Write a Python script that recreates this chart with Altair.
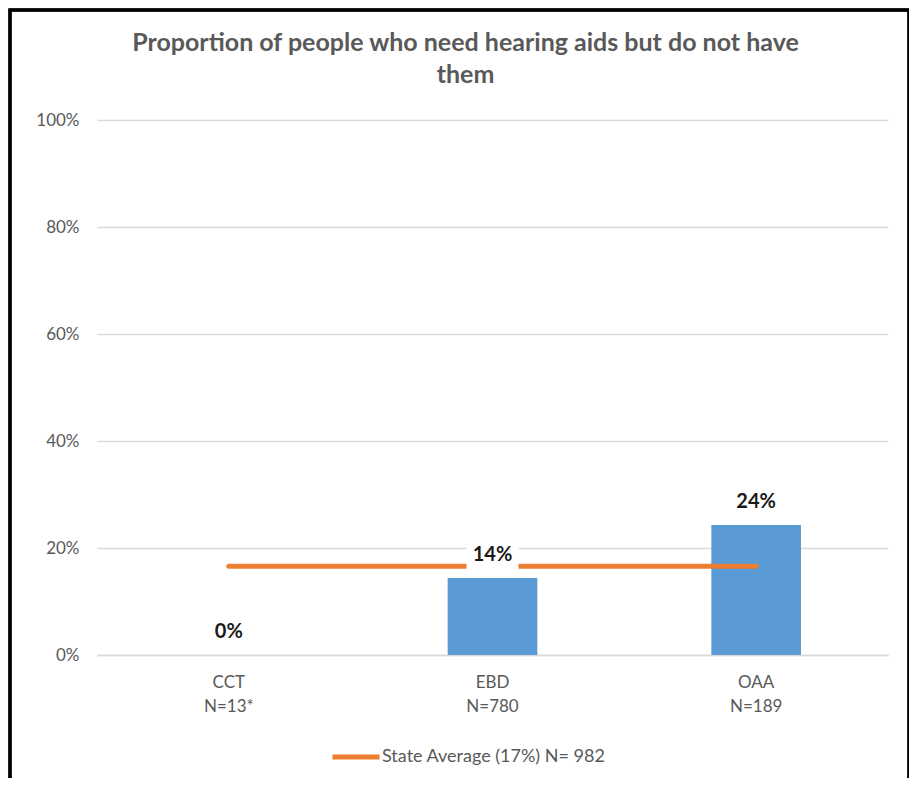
import altair as alt
import pandas as pd

categories = ["CCT\nN=13*", "EBD\nN=780", "OAA\nN=189"]
proportions = [0.0, 0.144, 0.243]
state_average = [0.166, 0.166, 0.166]
series_name = "State Average (17%) N= 982"
title_lines = ["Proportion of people who need hearing aids but do not have", "them"]
y_ticks = [0, 0.2, 0.4, 0.6, 0.8, 1.0]

df = pd.DataFrame({
    "cat": categories,
    "value": proportions,
    "avg": state_average,
    "series": [series_name] * len(categories),
})

FONT = "Lato"
GREY = "#595959"

x = alt.X(
    "cat:N", sort=categories, title=None,
    scale=alt.Scale(paddingInner=0.66, paddingOuter=0.33),
    axis=alt.Axis(labelAngle=0, labelExpr="split(datum.label, '\\n')",
                  labelFont=FONT, labelFontSize=17, labelColor=GREY,
                  labelPadding=19, labelLineHeight=24, ticks=False,
                  domainColor="#D9D9D9", domainWidth=1.5, grid=False),
)
y = alt.Y(
    "value:Q", title=None, scale=alt.Scale(domain=[0, 1], nice=False),
    axis=alt.Axis(format=".0%", values=y_ticks, labelFont=FONT, labelFontSize=17,
                  labelColor=GREY, labelPadding=18, ticks=False, domain=False,
                  gridColor="#D9D9D9", gridWidth=1.5),
)

base = alt.Chart(df)

frame = base.mark_rect(fillOpacity=0, stroke="black", strokeWidth=3).encode(
    x=alt.value(-87), x2=alt.value(812), y=alt.value(-110), y2=alt.value(720)
)

bars = base.mark_bar(color="#5B9BD5").encode(x=x, y=y)

line = base.mark_line(strokeWidth=5, strokeCap="round").encode(
    x=x,
    y=alt.Y("avg:Q"),
    color=alt.Color(
        "series:N", scale=alt.Scale(range=["#ED7D31"]),
        legend=alt.Legend(title=None, orient="none", legendX=233, legendY=611,
                          symbolType="stroke", symbolSize=2209, symbolStrokeWidth=5,
                          labelFont=FONT, labelFontSize=18, labelColor=GREY,
                          labelOffset=0, labelLimit=500),
    ),
)

box = base.mark_point(
    shape="M-1,-0.58L1,-0.58L1,0.58L-1,0.58Z", size=2704, filled=True,
    color="white", opacity=1, yOffset=-23,
).encode(x=x, y=alt.Y("value:Q"))

labels = base.mark_text(
    dy=-23, baseline="middle", fontWeight="bold", fontSize=20, font=FONT, color="#1a1a1a"
).encode(x=x, y=alt.Y("value:Q"), text=alt.Text("value:Q", format=".0%"))

chart = alt.layer(frame, bars, line, box, labels).properties(
    width=791, height=535,
    title=alt.TitleParams(text=title_lines, font=FONT, fontSize=25, fontWeight="bold",
                          color=GREY, anchor="middle", dx=-27, dy=109, offset=30,
                          lineHeight=32),
    autosize=alt.AutoSizeParams(type="none"),
    padding={"left": 89, "top": 112, "right": 21, "bottom": 123},
).configure_view(stroke=None)

chart.save("out.html", embed_options={"renderer": "svg", "actions": False})
